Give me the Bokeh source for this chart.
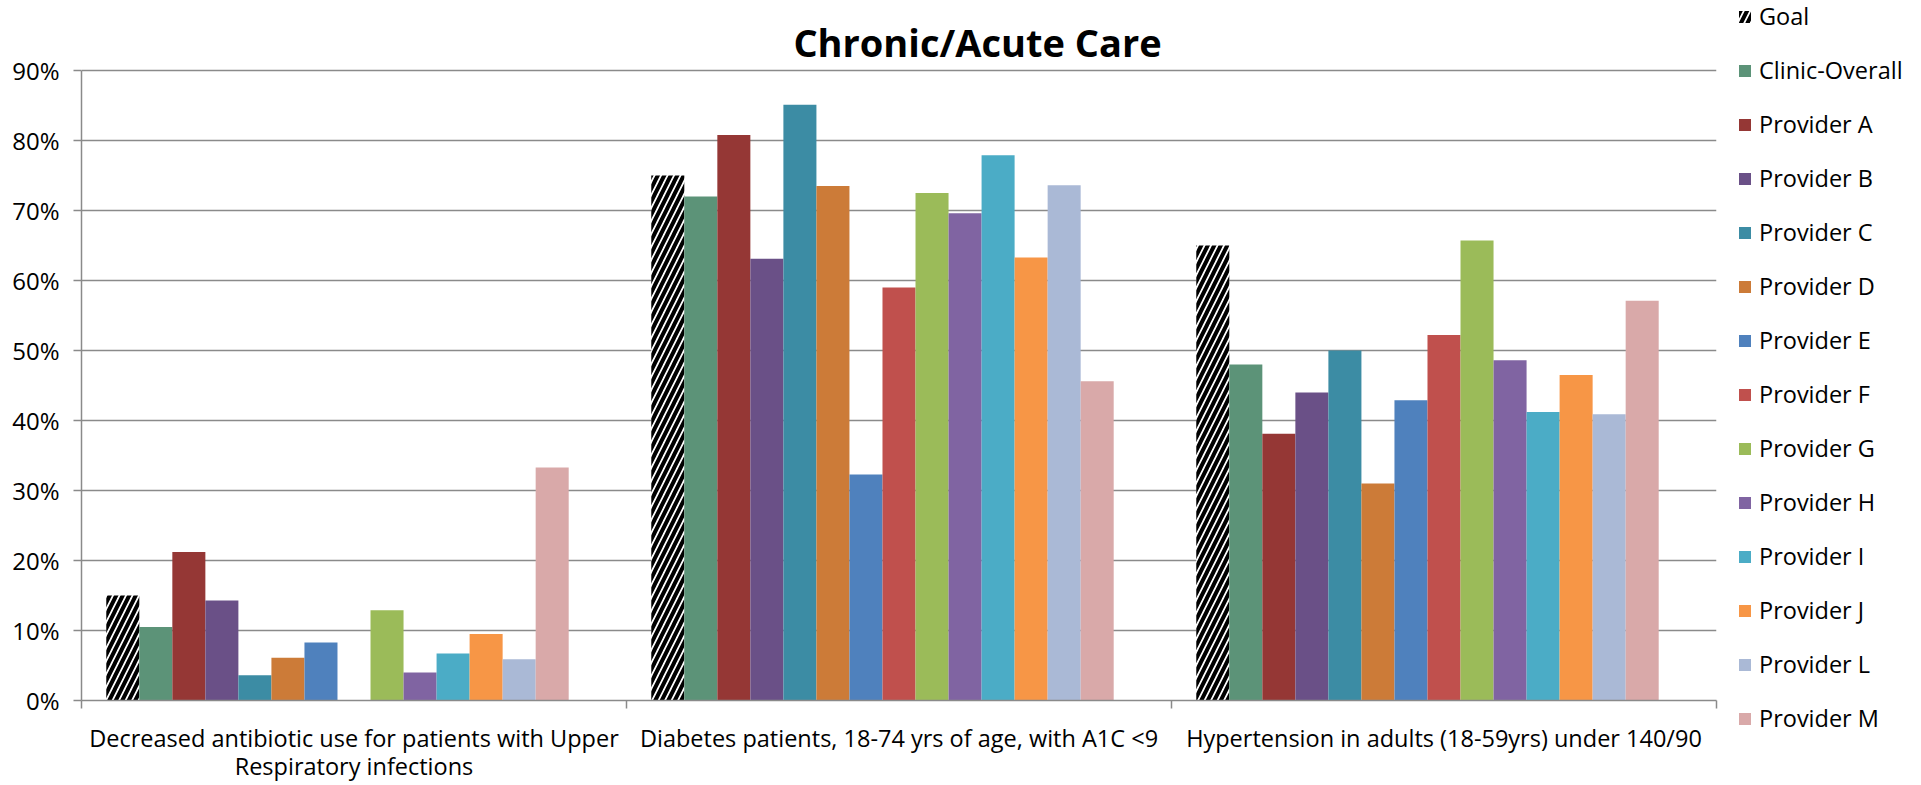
from bokeh.plotting import figure
from bokeh.layouts import row
from bokeh.models import (ColumnDataSource, FixedTicker, NumeralTickFormatter,
                          Legend, LegendItem, Label, Range1d)
from bokeh.embed import file_html
from bokeh.resources import INLINE

# Measures (x-axis groups)
categories = [
    "Decreased antibiotic use for patients with Upper\nRespiratory infections",
    "Diabetes patients, 18-74 yrs of age, with A1C <9",
    "Hypertension in adults (18-59yrs) under 140/90",
]

# Percent values per series, one entry per measure (nan = no data)
NA = float("nan")
goal = [15.0, 75.0, 65.0]
clinic_overall = [10.5, 72.0, 48.0]
provider_a = [21.2, 80.8, 38.1]
provider_b = [14.3, 63.1, 44.0]
provider_c = [3.6, 85.1, 50.0]
provider_d = [6.1, 73.5, 31.0]
provider_e = [8.3, 32.3, 42.9]
provider_f = [NA, 59.0, 52.2]
provider_g = [12.9, 72.5, 65.7]
provider_h = [4.0, 69.6, 48.6]
provider_i = [6.7, 77.9, 41.2]
provider_j = [9.5, 63.3, 46.5]
provider_l = [5.9, 73.6, 40.9]
provider_m = [33.3, 45.6, 57.1]

series_names = ["Goal", "Clinic-Overall", "Provider A", "Provider B", "Provider C",
                "Provider D", "Provider E", "Provider F", "Provider G", "Provider H",
                "Provider I", "Provider J", "Provider L", "Provider M"]
series_values = [goal, clinic_overall, provider_a, provider_b, provider_c,
                 provider_d, provider_e, provider_f, provider_g, provider_h,
                 provider_i, provider_j, provider_l, provider_m]
series_colors = ["#FFFFFF", "#5C9378", "#953735", "#6A5087", "#3C8CA4",
                 "#CC7B38", "#4F81BD", "#C0504D", "#9BBB59", "#8064A2",
                 "#4BACC6", "#F79646", "#AAB9D6", "#D9A9A9"]

y_ticks = [0.0, 0.1, 0.2, 0.3, 0.4, 0.5, 0.6, 0.7, 0.8, 0.9]
y_top = 0.9

FONT = "Open Sans"
GRID = "#8A8A8A"
HATCH = dict(hatch_pattern="/", hatch_color="black", hatch_weight=4, hatch_scale=13)

# Grouping: one reserved (empty) slot after the last series, gap of 1.5 bars
n_slots = len(series_names) + 1
bar_w = 1.0 / (n_slots + 1.5)
lead = 0.75 * bar_w


def bar_style(name, color):
    if name == "Goal":
        return dict(fill_color="white", line_color=None, **HATCH)
    return dict(fill_color=color, line_color=None)


# ---- main chart ----
# The frame runs up to the canvas top so the title can sit above the 90% line;
# the value axis itself is bounded to 0..90%.
p = figure(width=1737, height=785, output_backend="svg", toolbar_location=None,
           title=None, x_range=Range1d(0, len(categories)), y_range=Range1d(0, 1.0),
           min_border_left=81, min_border_right=21, min_border_top=0,
           min_border_bottom=85)
p.outline_line_color = None
p.frame_align = False

for k, (name, vals, col) in enumerate(zip(series_names, series_values, series_colors)):
    xs = [ci + lead + (k + 0.5) * bar_w for ci in range(len(categories))]
    tops = [v / 100.0 for v in vals]
    src = ColumnDataSource(dict(x=xs, top=tops))
    p.vbar(x="x", top="top", width=bar_w, source=src, **bar_style(name, col))

yax = p.yaxis[0]
yax.bounds = (0, y_top)
yax.ticker = FixedTicker(ticks=y_ticks, minor_ticks=[])
yax.formatter = NumeralTickFormatter(format="0%")
yax.axis_line_color = GRID
yax.axis_line_width = 1.5
yax.major_tick_line_color = GRID
yax.major_tick_line_width = 1.5
yax.major_tick_out = 8
yax.major_tick_in = 0
yax.minor_tick_line_color = None
yax.major_label_standoff = 14
yax.major_label_text_font = FONT
yax.major_label_text_font_size = "24px"
yax.major_label_text_color = "black"

xax = p.xaxis[0]
centers = [i + 0.5 for i in range(len(categories))]
xax.ticker = FixedTicker(ticks=centers, minor_ticks=list(range(len(categories) + 1)))
xax.major_label_overrides = {c: lab for c, lab in zip(centers, categories)}
xax.axis_line_color = GRID
xax.axis_line_width = 1.5
xax.major_tick_out = 0
xax.major_tick_in = 0
xax.major_tick_line_color = None
xax.minor_tick_out = 8
xax.minor_tick_in = 0
xax.minor_tick_line_color = GRID
xax.minor_tick_line_width = 1.5
xax.major_label_standoff = 13
xax.major_label_text_font = FONT
xax.major_label_text_font_size = "23.5px"
xax.major_label_text_color = "black"
xax.major_label_text_line_height = 0.9

p.xgrid.grid_line_color = None
p.ygrid.grid_line_color = GRID
p.ygrid.grid_line_width = 1.5

title = Label(x=896, y=659, x_units="screen", y_units="screen",
              text="Chronic/Acute Care", text_align="center",
              text_baseline="alphabetic", text_font=FONT, text_font_style="bold",
              text_font_size="38px", text_color="black")
p.add_layout(title)

# ---- legend panel ----
q = figure(width=184, height=785, output_backend="svg", toolbar_location=None,
           title=None, x_range=Range1d(0, 1), y_range=Range1d(0, 1),
           x_axis_type=None, y_axis_type=None,
           min_border_left=0, min_border_right=0, min_border_top=0, min_border_bottom=0)
q.outline_line_color = None
q.frame_align = False
q.xgrid.grid_line_color = None
q.ygrid.grid_line_color = None

items = []
for name, col in zip(series_names, series_colors):
    # stand-in renderer (outside the visible range) that carries the swatch style
    r = q.vbar(x=[5.0], top=[0.5], width=0.1, **bar_style(name, col))
    items.append(LegendItem(label=name, renderers=[r]))

legend = Legend(items=items, location="top_left", orientation="vertical",
                border_line_color=None, background_fill_alpha=0, padding=0, margin=0,
                glyph_width=15, glyph_height=15, label_standoff=7,
                label_height=32, spacing=22,
                label_text_font=FONT, label_text_font_size="23.5px",
                label_text_color="black")
q.add_layout(legend, "center")

layout = row(p, q, spacing=0)
open("out.html", "w").write(file_html(layout, INLINE))
